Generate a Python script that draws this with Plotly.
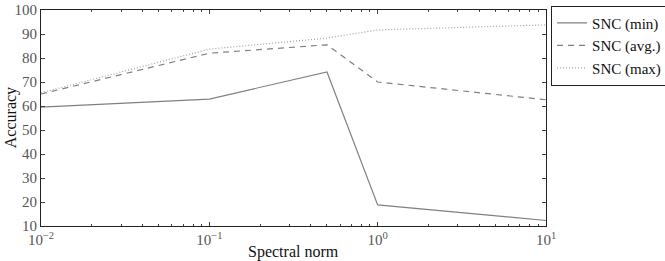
import plotly.graph_objects as go

spectral_norm = [0.01, 0.1, 0.5, 1, 10]
snc_min = [59.5, 62.9, 74.2, 18.8, 12.3]
snc_avg = [65.0, 82.0, 85.5, 70.0, 62.6]
snc_max = [65.5, 83.7, 88.3, 91.7, 93.8]

x_tickvals = [0.01, 0.1, 1, 10]
x_ticktext = ["10<sup>−2</sup>", "10<sup>−1</sup>", "10<sup>0</sup>", "10<sup>1</sup>"]
y_tickvals = [10, 20, 30, 40, 50, 60, 70, 80, 90, 100]
x_minor_vals = [m * d for d in [0.01, 0.1, 1] for m in range(2, 10)]

FONT = "Liberation Serif"

fig = go.Figure()
fig.add_trace(go.Scatter(x=spectral_norm, y=snc_min, mode="lines", name="SNC (min)",
                         line=dict(color="#808080", width=1.2, dash="solid")))
fig.add_trace(go.Scatter(x=spectral_norm, y=snc_avg, mode="lines", name="SNC (avg.)",
                         line=dict(color="#808080", width=1.2, dash="6px,5px")))
fig.add_trace(go.Scatter(x=spectral_norm, y=snc_max, mode="lines", name="SNC (max)",
                         line=dict(color="#a0a0a0", width=1.2, dash="1px,2px")))

axis_common = dict(showline=True, linecolor="#222", linewidth=1.2, mirror="ticks",
                   ticks="inside", tickcolor="#444", showgrid=False, zeroline=False,
                   automargin=False,
                   tickfont=dict(family=FONT, size=15, color="#555"))

fig.update_xaxes(type="log", range=[-2, 1], tickvals=x_tickvals, ticktext=x_ticktext,
                 ticklen=4,
                 minor=dict(tickmode="array", tickvals=x_minor_vals, ticks="inside", ticklen=2,
                            tickcolor="#444", showgrid=False),
                 **axis_common)
fig.update_yaxes(range=[10, 100], tickvals=y_tickvals, ticklen=4, **axis_common)

fig.add_annotation(text="Spectral norm", xref="paper", yref="paper", x=0.5, y=-0.12,
                   xanchor="center", yanchor="middle", showarrow=False,
                   font=dict(family=FONT, size=16, color="#111"))
fig.add_annotation(text="Accuracy", xref="paper", yref="paper", x=-0.059, y=0.5,
                   xanchor="center", yanchor="middle", showarrow=False, textangle=-90,
                   font=dict(family=FONT, size=16, color="#111"))

fig.update_layout(
    width=665, height=261,
    margin=dict(l=41, r=119, t=10, b=35, autoexpand=False),
    paper_bgcolor="white", plot_bgcolor="white",
    font=dict(family=FONT, size=15, color="#111"),
    legend=dict(x=1.01, y=1.02, xanchor="left", yanchor="top",
                bordercolor="#222", borderwidth=1, bgcolor="white",
                font=dict(family=FONT, size=15, color="#111"),
                tracegroupgap=0, itemwidth=30),
    showlegend=True,
)

fig.write_html("out.html", config={"displayModeBar": False},
               post_script="document.body.style.margin='0';")
